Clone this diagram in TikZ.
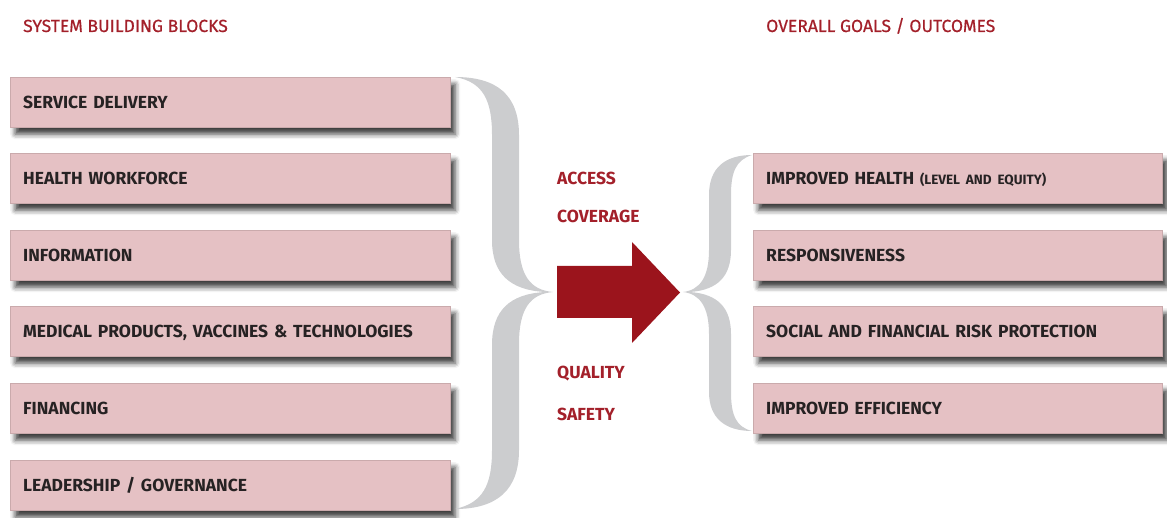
\documentclass[tikz,border=0pt]{standalone}
\usepackage{fontspec}
\setmainfont{Fira Sans}
\newfontfamily\headfont{Fira Sans}[FakeBold=0.6]
\usetikzlibrary{shadows.blur}
\definecolor{boxpink}{RGB}{229,193,196}
\definecolor{darkred}{RGB}{155,20,28}
\definecolor{titlered}{RGB}{163,32,42}
\definecolor{bracegray}{RGB}{204,205,207}
\definecolor{boxtext}{RGB}{38,34,35}
\begin{document}
\begin{tikzpicture}[x=1pt,y=-1pt,
  block/.style={fill=boxpink, draw=boxpink!88!black, line width=0.4pt,
    anchor=north west, minimum height=50pt, inner xsep=13pt, inner ysep=0pt,
    align=left, text height=13.5pt, text depth=0pt,
    font=\fontsize{17.5}{20}\selectfont\bfseries, text=boxtext,
    blur shadow={shadow xshift=5pt, shadow yshift=-7pt, shadow blur radius=5pt, shadow opacity=75}},
  lblock/.style={block, text width=414pt},
  rblock/.style={block, text width=383pt},
  heading/.style={anchor=base west, inner sep=0pt, text=titlered, font=\fontsize{17.5}{20}\selectfont\headfont},
  midlabel/.style={anchor=base west, inner sep=0pt, text=titlered, font=\fontsize{17.5}{20}\selectfont\bfseries},
]
\useasboundingbox (0,0) rectangle (1167,518);

\node[heading] (t1) at (23,32) {SYSTEM BUILDING BLOCKS};
\node[heading] (t2) at (766,32) {OVERALL GOALS / OUTCOMES};

\node[lblock] (l1) at (10,77)  {SERVICE DELIVERY};
\node[lblock] (l2) at (10,153) {HEALTH WORKFORCE};
\node[lblock] (l3) at (10,230) {INFORMATION};
\node[lblock] (l4) at (10,306) {MEDICAL PRODUCTS, VACCINES \& TECHNOLOGIES};
\node[lblock] (l5) at (10,383) {FINANCING};
\node[lblock] (l6) at (10,460) {LEADERSHIP / GOVERNANCE};

\node[rblock] (r1) at (753,153) {IMPROVED HEALTH {\fontsize{13.5}{14}\selectfont (LEVEL AND EQUITY)}};
\node[rblock] (r2) at (753,230) {RESPONSIVENESS};
\node[rblock] (r3) at (753,306) {SOCIAL AND FINANCIAL RISK PROTECTION};
\node[rblock] (r4) at (753,383) {IMPROVED EFFICIENCY};

% left brace
\fill[bracegray] (455,77)
 .. controls (497,77) and (519,95) .. (519,135)
 -- (519,240)
 .. controls (519,275) and (530,290) .. (553,292)
 .. controls (530,294) and (519,309) .. (519,344)
 -- (519,450)
 .. controls (519,490) and (497,509) .. (455,509)
 .. controls (483,503) and (492,485) .. (492,450)
 -- (492,345)
 .. controls (492,310) and (510,294) .. (545,292)
 .. controls (510,290) and (492,274) .. (492,240)
 -- (492,135)
 .. controls (492,100) and (483,82) .. (455,77) -- cycle;

% right brace
\fill[bracegray] (752,155)
 .. controls (725,155) and (709,168) .. (709,195)
 -- (709,250)
 .. controls (709,277) and (700,290) .. (683,292)
 .. controls (700,294) and (709,307) .. (709,334)
 -- (709,392)
 .. controls (709,418) and (725,431) .. (752,431)
 .. controls (736,427) and (731,415) .. (731,392)
 -- (731,334)
 .. controls (731,308) and (718,294) .. (690,292)
 .. controls (718,290) and (731,276) .. (731,250)
 -- (731,195)
 .. controls (731,172) and (736,160) .. (752,155) -- cycle;

% arrow
\fill[darkred] (557,266) -- (632,266) -- (632,242) -- (680,292.5) -- (632,343) -- (632,318) -- (557,318) -- cycle;

\node[midlabel] (m1) at (557,185) {ACCESS};
\node[midlabel] (m2) at (557,223) {COVERAGE};
\node[midlabel] (m3) at (557,378) {QUALITY};
\node[midlabel] (m4) at (557,420) {SAFETY};
\end{tikzpicture}
\end{document}
